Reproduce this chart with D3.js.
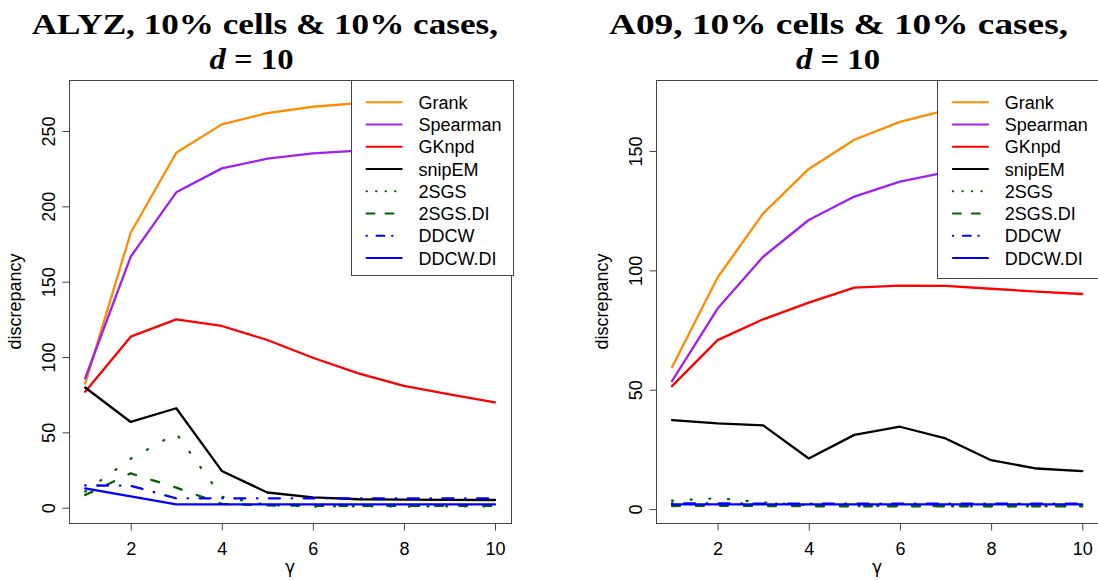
<!DOCTYPE html>
<html><head><meta charset="utf-8">
<script src="https://cdn.jsdelivr.net/npm/d3@7"></script>
<style>body{margin:0;background:#fff}svg{display:block}</style>
</head><body><svg id="c" width="1098" height="580"></svg>
<script>
// ---------- data ----------
const gamma = [1,2,3,4,5,6,7,8,9,10];
const seriesNames = ["Grank","Spearman","GKnpd","snipEM","2SGS","2SGS.DI","DDCW","DDCW.DI"];
const seriesColors = ["#FF8C00","#A020F0","#FF0000","#000000","#006400","#006400","#0000FF","#0000FF"];

// ALYZ panel
const alyzGrank    = [82.3, 182.5, 235.6, 254.4, 261.9, 266.1, 268.5, 270.5, 272.0, 273.0];
const alyzSpearman = [85.9, 166.6, 209.3, 225.2, 231.6, 235.2, 237.0, 238.5, 239.5, 240.0];
const alyzGKnpd    = [77.0, 113.5, 125.0, 120.6, 111.3, 99.5, 89.2, 80.8, 75.2, 69.9];
const alyzSnipEM   = [79.8, 56.9, 66.0, 24.4, 10.1, 6.9, 5.6, 5.4, 5.2, 5.1];
const alyz2SGS     = [10.7, 32.5, 49.3, 7.3, 1.8, 0.8, 1.0, 0.8, 0.9, 0.8];
const alyz2SGSDI   = [8.4, 22.8, 13.3, 2.5, 1.5, 1.3, 1.3, 1.2, 1.2, 1.2];
const alyzDDCW     = [14.8, 14.6, 6.2, 6.2, 6.2, 6.2, 6.2, 6.2, 6.2, 6.2];
const alyzDDCWDI   = [12.8, 7.5, 2.2, 2.2, 2.2, 2.2, 2.2, 2.2, 2.2, 2.2];

// A09 panel
const a09Grank    = [59.4, 97.0, 123.9, 142.5, 154.7, 162.2, 167.0, 169.5, 171.5, 173.0];
const a09Spearman = [53.6, 84.0, 105.7, 121.1, 130.9, 137.2, 141.0, 144.0, 146.0, 148.0];
const a09GKnpd    = [51.5, 70.8, 79.5, 86.5, 92.8, 93.6, 93.5, 92.3, 91.1, 90.1];
const a09SnipEM   = [37.3, 35.9, 35.1, 21.2, 31.1, 34.5, 29.6, 20.5, 17.0, 15.9];
const a092SGS     = [3.5, 4.6, 2.8, 1.6, 1.3, 1.3, 1.2, 1.2, 1.2, 1.2];
const a092SGSDI   = [1.3, 1.4, 1.3, 1.2, 1.2, 1.2, 1.2, 1.2, 1.2, 1.2];
const a09DDCW     = [2.4, 2.4, 2.3, 2.3, 2.3, 2.3, 2.3, 2.3, 2.3, 2.3];
const a09DDCWDI   = [2.0, 2.0, 2.0, 2.0, 2.0, 2.0, 2.0, 2.0, 2.0, 2.0];

const xTicks = [2,4,6,8,10];
const alyzYTicks = [0,50,100,150,200,250];
const a09YTicks = [0,50,100,150];
const xLabel = "γ";
const yLabel = "discrepancy";

// ---------- styles ----------
const plotDash   = [null,null,null,null,"1,17.7","8,16","0.5,11.5,11,11.7",null];
const legendDash = [null,null,null,null,"0.5,9","8,11","0.5,9.5,8,7.5,0.5,40",null];
const sans = "'Liberation Sans', Arial, Helvetica, sans-serif";
const serif = "'Liberation Serif', 'Times New Roman', serif";

const panels = [
  { title: "ALYZ, 10% cells & 10% cases,", series: [alyzGrank,alyzSpearman,alyzGKnpd,alyzSnipEM,alyz2SGS,alyz2SGSDI,alyzDDCW,alyzDDCWDI],
    yTicks: alyzYTicks, yDom: [-10.15, 283.85],
    box: {l:68.8, r:511.4, t:80, b:523},
    legend: {x:351, y:80, w:162, h:195},
    t1: {x:31.7, w:466.3}, t2: {x:209.5, w:84} },
  { title: "A09, 10% cells & 10% cases,", series: [a09Grank,a09Spearman,a09GKnpd,a09SnipEM,a092SGS,a092SGSDI,a09DDCW,a09DDCWDI],
    yTicks: a09YTicks, yDom: [-5.82, 179.74],
    box: {l:655.6, r:1098.7, t:80, b:523},
    legend: {x:937.3, y:80, w:170, h:198},
    t1: {x:609, w:459}, t2: {x:796, w:84} }
];

const svg = d3.select("#c");
svg.append("rect").attr("width",1098).attr("height",580).attr("fill","#fff");

panels.forEach(p => {
  const g = svg.append("g");
  const x = d3.scaleLinear().domain([0.64, 10.36]).range([p.box.l, p.box.r]);
  const y = d3.scaleLinear().domain(p.yDom).range([p.box.b, p.box.t]);

  // lines
  const line = d3.line().x((d,i)=>x(gamma[i])).y(d=>y(d));
  p.series.forEach((s,k) => {
    g.append("path").datum(s).attr("d", line)
      .attr("fill","none").attr("stroke", seriesColors[k])
      .attr("stroke-width", 2.3).attr("stroke-linejoin","round").attr("stroke-linecap","round")
      .attr("stroke-dasharray", plotDash[k]);
  });

  // box
  g.append("rect").attr("x", Math.round(p.box.l)+0.5).attr("y", p.box.t+0.5)
    .attr("width", Math.round(p.box.r)-Math.round(p.box.l)).attr("height", p.box.b-p.box.t)
    .attr("fill","none").attr("stroke","#444").attr("stroke-width",1);

  // x axis
  const xa = g.append("g").attr("transform",`translate(0,${p.box.b+0.5})`)
    .call(d3.axisBottom(x).tickValues(xTicks).tickSize(7).tickFormat(d3.format("d")));
  xa.select(".domain").remove();
  xa.selectAll("line").attr("stroke","#444");
  xa.selectAll("text").attr("y",31).attr("dy",0).attr("fill","#000")
    .attr("font-family",sans).attr("font-size",18);

  // y axis
  const ya = g.append("g").attr("transform",`translate(${Math.round(p.box.l)+0.5},0)`)
    .call(d3.axisLeft(y).tickValues(p.yTicks).tickSize(7).tickFormat(d3.format("d")));
  ya.select(".domain").remove();
  ya.selectAll("line").attr("stroke","#444");
  ya.selectAll("text").attr("x",0).attr("y",-14.8).attr("dy",0)
    .attr("transform","rotate(-90)").attr("text-anchor","middle").attr("fill","#000")
    .attr("font-family",sans).attr("font-size",18);

  // axis labels
  g.append("text").attr("transform",`translate(${p.box.l-47.8},${(p.box.t+p.box.b)/2}) rotate(-90)`)
    .attr("text-anchor","middle").attr("font-family",sans).attr("font-size",18).text(yLabel);
  g.append("text").attr("x",(p.box.l+p.box.r)/2).attr("y",573)
    .attr("text-anchor","middle").attr("font-family","'DejaVu Sans', sans-serif").attr("font-size",17).text(xLabel);

  // title
  g.append("text").attr("x",p.t1.x).attr("y",33.5).attr("font-family",serif).attr("font-weight","bold")
    .attr("font-size",30).attr("textLength",p.t1.w).attr("lengthAdjust","spacingAndGlyphs").text(p.title);
  const t2 = g.append("text").attr("x",p.t2.x).attr("y",68.5).attr("font-family",serif).attr("font-weight","bold")
    .attr("font-size",30).attr("textLength",p.t2.w).attr("lengthAdjust","spacingAndGlyphs");
  t2.append("tspan").attr("font-style","italic").text("d");
  t2.append("tspan").text(" = 10");

  // legend
  const L = p.legend;
  g.append("rect").attr("x",Math.round(L.x)+0.5).attr("y",L.y+0.5).attr("width",L.w).attr("height",L.h)
    .attr("fill","#fff").attr("stroke","#444").attr("stroke-width",1);
  seriesNames.forEach((nm,k) => {
    const ry = 102.2 + k*22.24;
    g.append("line").attr("x1",L.x+15.5).attr("x2",L.x+50.7).attr("y1",ry).attr("y2",ry)
      .attr("stroke",seriesColors[k]).attr("stroke-width",2).attr("stroke-linecap","round")
      .attr("stroke-dasharray",legendDash[k]);
    g.append("text").attr("x",L.x+67.5).attr("y",ry+6.7).attr("font-family",sans).attr("font-size",18).text(nm);
  });
});
</script></body></html>
